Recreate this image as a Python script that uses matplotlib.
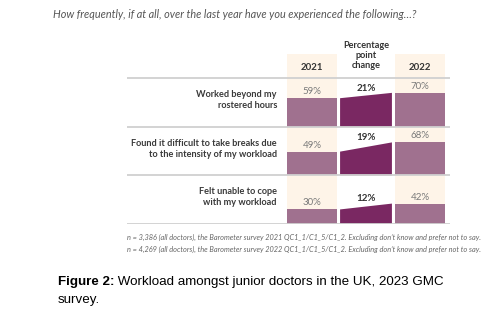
import matplotlib.pyplot as plt
from matplotlib.patches import Rectangle

title = "How frequently, if at all, over the last year have you experienced the following\u2026?"
categories = ["Worked beyond my\nrostered hours",
              "Found it difficult to take breaks due\nto the intensity of my workload",
              "Felt unable to cope\nwith my workload"]
values_2021 = [59, 49, 30]
values_2022 = [70, 68, 42]
change = [21, 19, 12]
col_headers = ["2021", "Percentage\npoint\nchange", "2022"]
footnotes = ["n = 3,386 (all doctors), the Barometer survey 2021 QC1_1/C1_5/C1_2. Excluding don\u2019t know and prefer not to say.",
             "n = 4,269 (all doctors), the Barometer survey 2022 QC1_1/C1_5/C1_2. Excluding don\u2019t know and prefer not to say."]
caption_bold = "Figure 2:"
caption_rest = " Workload amongst junior doctors in the UK, 2023 GMC\nsurvey."

LIGHT = "#a0718f"
DARK = "#7a2862"
BEIGE = "#fef4e8"
LINE = "#d0d0d0"
W, H = 499, 336

fig = plt.figure(figsize=(W / 100, H / 100), dpi=100)
fig.patch.set_facecolor("white")

# chart area in pixels: x 127..450, y 54..224
ax = fig.add_axes([127 / W, 1 - 224 / H, 323 / W, 170 / H])
ax.set_xlim((127 - 312) / 54, (450 - 312) / 54)
ax.set_ylim(0, 3.5)
ax.axis("off")

n = len(categories)
bw = 50 / 54
# beige column backgrounds
for cx in (0, 2):
    ax.add_patch(Rectangle((cx - bw / 2, 0), bw, 3.5, color=BEIGE, lw=0, zorder=0))

for i, cat in enumerate(categories):
    base = n - 1 - i
    v1, v2 = values_2021[i] / 100, values_2022[i] / 100
    ax.bar(0, v1, bottom=base, width=bw, color=LIGHT, zorder=2)
    ax.bar(2, v2, bottom=base, width=bw, color=LIGHT, zorder=2)
    xl, xr = 1 - 0.48, 1 + 0.48
    ax.fill([xl, xr, xr, xl], [base, base, base + v2, base + v1], color=DARK, lw=0, zorder=2)
    ax.annotate(f"{values_2021[i]}%", (0, base + v1), xytext=(0, 1.5), textcoords="offset points",
                ha="center", va="bottom", fontsize=7, color="#7a7a7a", family="Lato")
    ax.annotate(f"{values_2022[i]}%", (2, base + v2), xytext=(0, 1.5), textcoords="offset points",
                ha="center", va="bottom", fontsize=7, color="#7a7a7a", family="Lato")
    ax.annotate(f"{change[i]}%", (1, base + v2), xytext=(0, 0.2), textcoords="offset points",
                ha="center", va="bottom", fontsize=7, color="#333333", weight="bold", family="Lato")
    ax.text(-0.65, base + 0.55, cat, ha="right", va="center", fontsize=6.6,
            color="#3a3a3a", weight="bold", family="Lato", linespacing=1.3)

for y in range(n + 1):
    ax.plot(ax.get_xlim(), [y, y], color=LINE, lw=1.3, zorder=3, solid_capstyle="butt")

ax.text(0, 3.22, col_headers[0], ha="center", va="center", fontsize=6.9,
        weight="bold", color="#333333", family="Lato")
ax.text(2, 3.22, col_headers[2], ha="center", va="center", fontsize=6.9,
        weight="bold", color="#333333", family="Lato")
ax.text(1, 3.22 - 0.04, col_headers[1], ha="center", va="bottom", fontsize=6.6,
        weight="bold", color="#333333", family="Lato", linespacing=1.1, clip_on=False)

fig.text(53 / W, 1 - 15 / H, title, ha="left", va="center", fontsize=7.85,
         style="italic", color="#555555", family="Lato")
for k, note in enumerate(footnotes):
    fig.text(127 / W, 1 - (237 + 12 * k) / H, note, ha="left", va="center", fontsize=5.3,
             style="italic", color="#666666", family="Lato")

t = fig.text(58 / W, 1 - 282 / H, caption_bold, ha="left", va="center", fontsize=9.65,
             weight="bold", family="Liberation Sans", color="black")
fig.canvas.draw()
bb = t.get_window_extent()
fig.text(bb.x1 / W, 1 - 282 / H, caption_rest.split("\n")[0], ha="left", va="center",
         fontsize=9.65, family="Liberation Sans", color="black")
fig.text(58 / W, 1 - 300 / H, caption_rest.split("\n")[1], ha="left", va="center",
         fontsize=9.65, family="Liberation Sans", color="black")

fig.savefig("out.png", dpi=100)
